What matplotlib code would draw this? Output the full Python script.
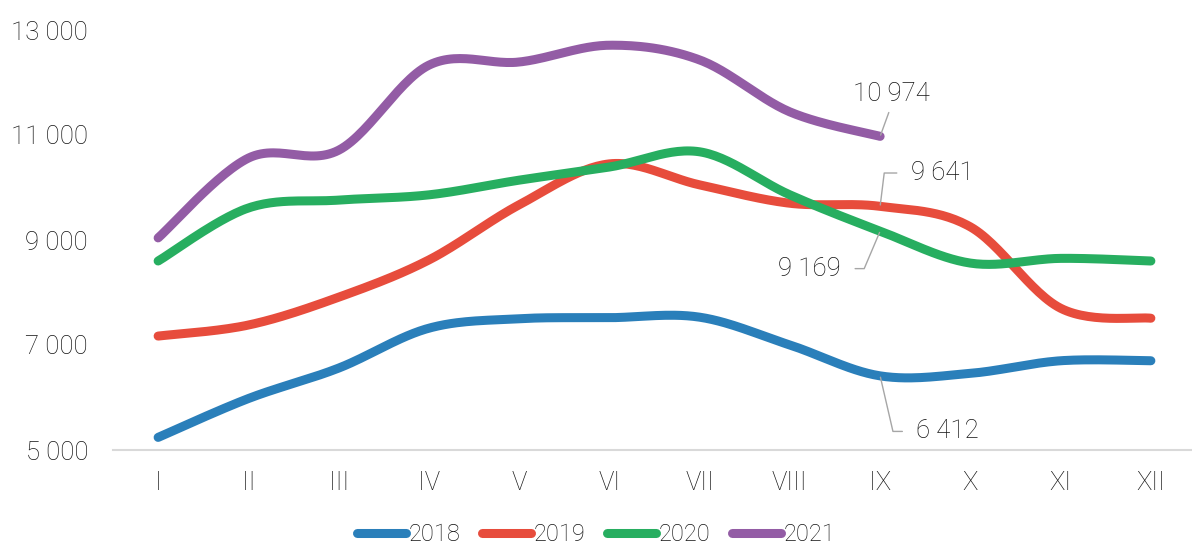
import numpy as np
import matplotlib
matplotlib.use("Agg")
import matplotlib.pyplot as plt

plt.rcParams['font.family'] = ['Roboto', 'DejaVu Sans']
plt.rcParams['font.weight'] = 'light'

# --------------------------
# data
# --------------------------
months = ["I", "II", "III", "IV", "V", "VI", "VII", "VIII", "IX", "X", "XI", "XII"]
years = ["2018", "2019", "2020", "2021"]
v2018 = [5240, 5980, 6560, 7320, 7500, 7520, 7530, 7000, 6412, 6460, 6700, 6700]
v2019 = [7170, 7380, 7910, 8620, 9670, 10450, 10050, 9700, 9641, 9250, 7700, 7510]
v2020 = [8600, 9610, 9760, 9860, 10140, 10390, 10680, 9860, 9169, 8560, 8650, 8600]
v2021 = [9040, 10560, 10710, 12330, 12390, 12710, 12430, 11440, 10974]
colors = ['#2a7fba', '#e74c3c', '#27ae60', '#935ca5']
yticks = [5000, 7000, 9000, 11000, 13000]
TXT = '#141414'


def smooth(y, n=30):
    """Excel-like smoothed line (Catmull-Rom as cubic Bezier)"""
    x = np.arange(len(y), dtype=float)
    y = np.asarray(y, dtype=float)
    px, py = [], []
    t = np.linspace(0, 1, n)
    for i in range(len(y) - 1):
        i0, i3 = max(i - 1, 0), min(i + 2, len(y) - 1)
        p0 = np.array([x[i], y[i]])
        p3 = np.array([x[i + 1], y[i + 1]])
        c1 = p0 + (p3 - np.array([x[i0], y[i0]])) / 6
        c2 = p3 - (np.array([x[i3], y[i3]]) - p0) / 6
        b = (np.outer((1 - t) ** 3, p0) + np.outer(3 * (1 - t) ** 2 * t, c1)
             + np.outer(3 * (1 - t) * t ** 2, c2) + np.outer(t ** 3, p3))
        px.extend(b[:, 0]); py.extend(b[:, 1])
    return np.array(px), np.array(py)


def fmt(v):
    return f"{v:,}".replace(",", " ")


fig = plt.figure(figsize=(11.92, 5.46), dpi=100)
ax = fig.add_axes([113 / 1192, 1 - 450 / 546, 1083 / 1192, 420 / 546])

for name, vals, c in zip(years, [v2018, v2019, v2020, v2021], colors):
    sx, sy = smooth(vals)
    ax.plot(sx, sy, color=c, lw=6.5, solid_capstyle='round', label=name)

ax.set_xlim(-0.5, 11.5)
ax.set_ylim(5000, 13000)
ax.set_xticks(range(len(months)))
ax.set_xticklabels(months)
ax.set_yticks(yticks)
ax.set_yticklabels([fmt(v) for v in yticks])
ax.tick_params(axis='both', length=0, labelsize=18.5, colors=TXT)
ax.tick_params(axis='y', pad=18)
ax.tick_params(axis='x', pad=15)
for s in ['top', 'right', 'left']:
    ax.spines[s].set_visible(False)
ax.spines['bottom'].set_color('#d9d9d9')
ax.spines['bottom'].set_linewidth(1.5)

# --------------------------
# labels at IX
# --------------------------
lead = dict(arrowstyle='-', color='#a6a6a6', lw=1, shrinkA=3, shrinkB=1)
ax.annotate(fmt(v2021[8]), xy=(8, v2021[8]), xytext=(8, 22), textcoords='offset points',
            ha='center', va='bottom', fontsize=18.5, color=TXT,
            arrowprops=dict(lead, relpos=(0.5, 0)))
ax.annotate(fmt(v2019[8]), xy=(8, v2019[8]), xytext=(22, 24), textcoords='offset points',
            ha='left', va='center', fontsize=18.5, color=TXT,
            arrowprops=dict(lead, relpos=(0, 0.5), shrinkA=8,
                            connectionstyle='angle,angleA=0,angleB=83,rad=0'))
ax.annotate(fmt(v2020[8]), xy=(8, v2020[8]), xytext=(-28, -27), textcoords='offset points',
            ha='right', va='center', fontsize=18.5, color=TXT,
            arrowprops=dict(lead, relpos=(1, 0.5), shrinkA=8,
                            connectionstyle='angle,angleA=0,angleB=67,rad=0'))
ax.annotate(fmt(v2018[8]), xy=(8, v2018[8]), xytext=(26, -40), textcoords='offset points',
            ha='left', va='center', fontsize=18.5, color=TXT,
            arrowprops=dict(lead, relpos=(0, 0.5), shrinkA=8,
                            connectionstyle='angle,angleA=0,angleB=-77,rad=0'))

fig.legend(loc='lower center', bbox_to_anchor=(0.5, -0.03), ncol=4, frameon=False,
           fontsize=17, handlelength=2.1, handletextpad=0.1, columnspacing=0.9,
           labelcolor=TXT, borderpad=0.2)

fig.savefig('out.png', dpi=100)
